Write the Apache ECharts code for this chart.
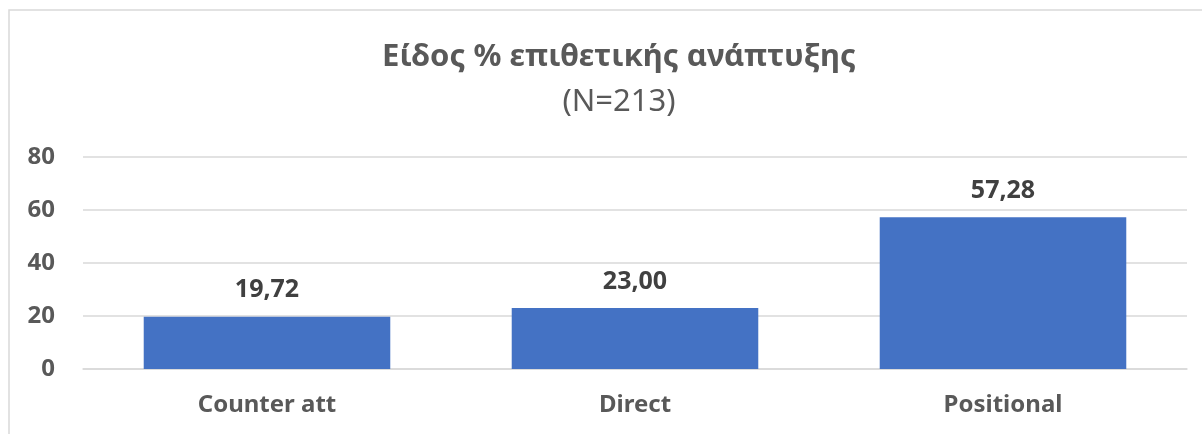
<!DOCTYPE html>
<html>
<head>
<meta charset="utf-8">
<script src="https://cdn.jsdelivr.net/npm/echarts@6/dist/echarts.min.js"></script>
<style>
  html, body { margin: 0; padding: 0; background: #fff; }
  #chart { width: 1202px; height: 434px; }
</style>
</head>
<body>
<div id="chart"></div>
<script>
// chart data
const categories = ['Counter att', 'Direct', 'Positional'];
const percentValues = [19.72, 23.00, 57.28];
const yTicks = [0, 20, 40, 60, 80];

const chart = echarts.init(document.getElementById('chart'));
const FONT = '"Noto Sans", "Open Sans", sans-serif';

chart.setOption({
  animation: false,
  backgroundColor: '#ffffff',
  title: {
    text: 'Είδος % επιθετικής ανάπτυξης',
    subtext: '(N=213)',
    left: 614,
    textAlign: 'center',
    top: 37,
    itemGap: 14,
    textStyle: {
      fontFamily: FONT,
      fontSize: 31,
      fontWeight: 'bold',
      color: '#595959'
    },
    subtextStyle: {
      fontFamily: FONT,
      fontSize: 31,
      color: '#595959'
    }
  },
  // outer frame of the chart area (only left/top visible in the crop)
  graphic: [{
    type: 'polyline',
    shape: { points: [[9, 434], [9, 10], [1202, 10]] },
    style: { stroke: '#d9d9d9', lineWidth: 1.5, fill: null }
  }],
  grid: {
    left: 83,
    right: 15,
    top: 157,
    bottom: 65,
    containLabel: false
  },
  xAxis: {
    type: 'category',
    data: categories,
    axisLine: { show: true, lineStyle: { color: '#d9d9d9', width: 1.5 } },
    axisTick: { show: false },
    axisLabel: {
      margin: 24,
      fontFamily: FONT,
      fontSize: 24,
      fontWeight: 'bold',
      color: '#595959'
    }
  },
  yAxis: {
    type: 'value',
    min: yTicks[0],
    max: yTicks[yTicks.length - 1],
    interval: 20,
    axisLine: { show: false },
    axisTick: { show: false },
    axisLabel: {
      margin: 28,
      fontFamily: FONT,
      fontSize: 24,
      fontWeight: 'bold',
      color: '#595959'
    },
    splitLine: { show: true, lineStyle: { color: '#d9d9d9', width: 1.5 } }
  },
  series: [{
    type: 'bar',
    data: percentValues,
    barCategoryGap: '33%',
    itemStyle: { color: '#4472c4' },
    label: {
      show: true,
      position: 'top',
      distance: 14,
      fontFamily: FONT,
      fontSize: 25,
      fontWeight: 'bold',
      color: '#404040',
      formatter: function (p) {
        return p.value.toFixed(2).replace('.', ',');
      }
    }
  }]
});
</script>
</body>
</html>
